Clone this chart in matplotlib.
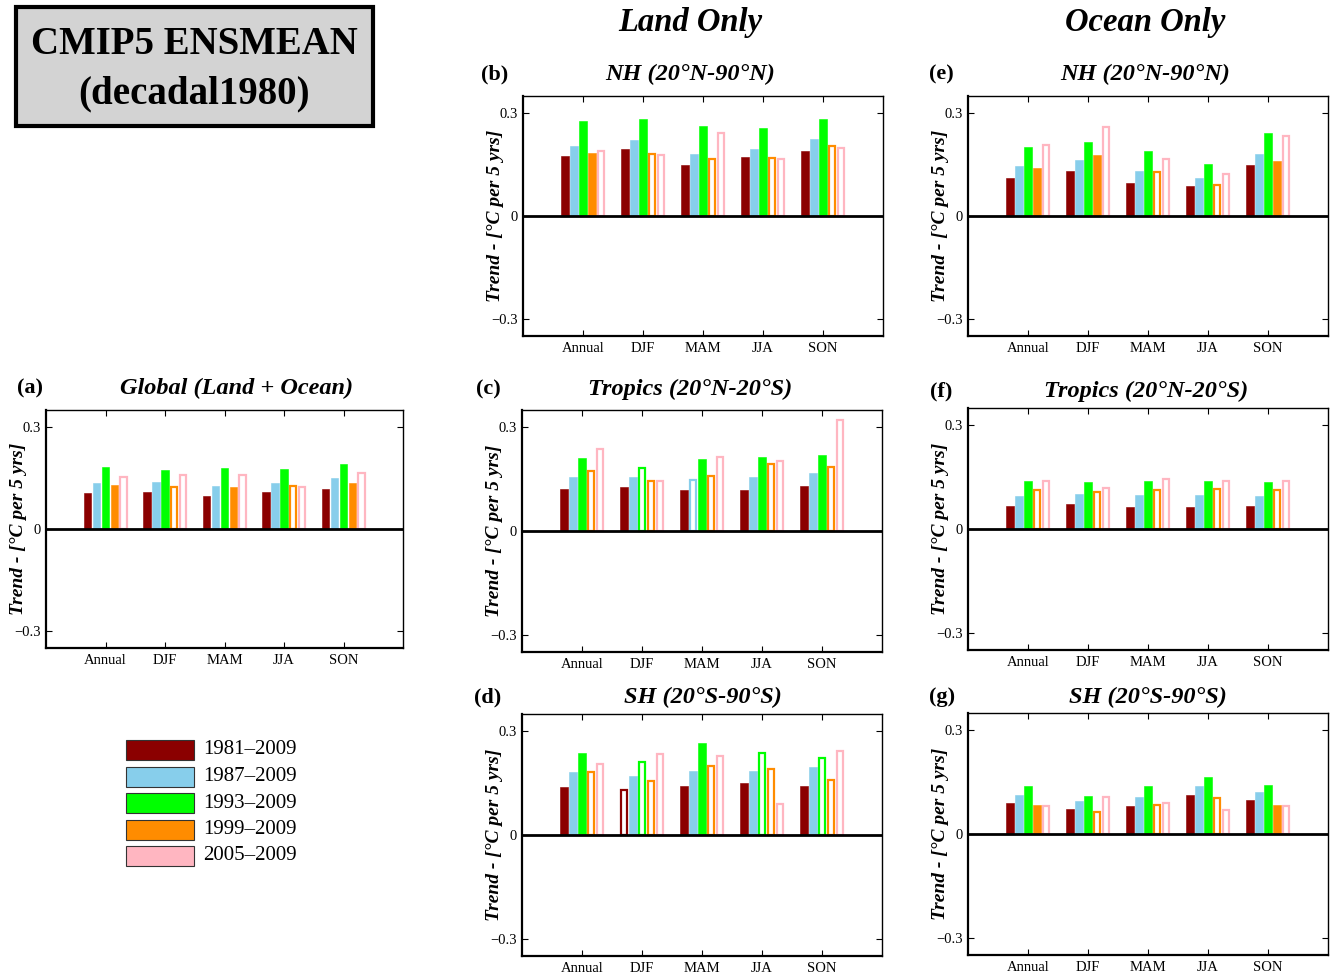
import matplotlib
matplotlib.use("Agg")
import matplotlib.pyplot as plt
from matplotlib.patches import Rectangle

plt.rcParams['font.family'] = ['Liberation Serif', 'DejaVu Serif']
plt.rcParams['mathtext.fontset'] = 'stix'

W, H = 1331, 975

seasons = ["Annual", "DJF", "MAM", "JJA", "SON"]
periods = ["1981\u20132009", "1987\u20132009", "1993\u20132009", "1999\u20132009", "2005\u20132009"]
colors = ["#8B0000", "#87CEEB", "#00FF00", "#FF8C00", "#FFB6C1"]

# values: rows = periods, columns = seasons (Annual, DJF, MAM, JJA, SON)
global_vals = [[0.106, 0.109, 0.097, 0.109, 0.118],
               [0.136, 0.137, 0.126, 0.135, 0.149],
               [0.182, 0.173, 0.178, 0.176, 0.191],
               [0.130, 0.124, 0.125, 0.126, 0.136],
               [0.153, 0.158, 0.158, 0.123, 0.166]]
global_hollow = [[0, 0, 0, 0, 0], [0, 0, 0, 0, 0], [0, 0, 0, 0, 0],
                 [0, 1, 0, 1, 0], [1, 1, 1, 1, 1]]

land_nh_vals = [[0.174, 0.195, 0.150, 0.172, 0.191],
                [0.205, 0.223, 0.180, 0.196, 0.225],
                [0.277, 0.283, 0.262, 0.256, 0.283],
                [0.183, 0.180, 0.166, 0.168, 0.204],
                [0.190, 0.179, 0.243, 0.165, 0.199]]
land_nh_hollow = [[0, 0, 0, 0, 0], [0, 0, 0, 0, 0], [0, 0, 0, 0, 0],
                  [0, 1, 1, 1, 1], [1, 1, 1, 1, 1]]

land_tr_vals = [[0.122, 0.127, 0.119, 0.119, 0.130],
                [0.156, 0.156, 0.148, 0.155, 0.169],
                [0.210, 0.181, 0.209, 0.215, 0.219],
                [0.173, 0.145, 0.159, 0.193, 0.184],
                [0.236, 0.145, 0.214, 0.202, 0.320]]
land_tr_hollow = [[0, 0, 0, 0, 0], [0, 0, 1, 0, 0], [0, 1, 0, 0, 0],
                  [1, 1, 1, 1, 1], [1, 1, 1, 1, 1]]

land_sh_vals = [[0.140, 0.131, 0.143, 0.150, 0.143],
                [0.181, 0.170, 0.184, 0.184, 0.198],
                [0.238, 0.212, 0.266, 0.236, 0.224],
                [0.181, 0.155, 0.200, 0.190, 0.159],
                [0.204, 0.235, 0.229, 0.089, 0.243]]
land_sh_hollow = [[0, 1, 0, 0, 0], [0, 0, 0, 0, 0], [0, 1, 0, 1, 1],
                  [1, 1, 1, 1, 1], [1, 1, 1, 1, 1]]

ocean_nh_vals = [[0.112, 0.131, 0.097, 0.087, 0.148],
                 [0.147, 0.163, 0.132, 0.112, 0.180],
                 [0.201, 0.217, 0.190, 0.151, 0.242],
                 [0.139, 0.177, 0.127, 0.089, 0.159],
                 [0.208, 0.261, 0.165, 0.123, 0.233]]
ocean_nh_hollow = [[0, 0, 0, 0, 0], [0, 0, 0, 0, 0], [0, 0, 0, 0, 0],
                   [0, 0, 1, 1, 0], [1, 1, 1, 1, 1]]

ocean_tr_vals = [[0.067, 0.073, 0.065, 0.064, 0.067],
                 [0.095, 0.101, 0.097, 0.097, 0.096],
                 [0.138, 0.136, 0.138, 0.138, 0.135],
                 [0.114, 0.107, 0.114, 0.117, 0.112],
                 [0.139, 0.120, 0.144, 0.138, 0.138]]
ocean_tr_hollow = [[0, 0, 0, 0, 0], [0, 0, 0, 0, 0], [0, 0, 0, 0, 0],
                   [1, 1, 1, 1, 1], [1, 1, 1, 1, 1]]

ocean_sh_vals = [[0.090, 0.073, 0.080, 0.114, 0.098],
                 [0.114, 0.095, 0.107, 0.139, 0.122],
                 [0.140, 0.109, 0.138, 0.165, 0.142],
                 [0.085, 0.065, 0.085, 0.104, 0.085],
                 [0.080, 0.107, 0.091, 0.069, 0.080]]
ocean_sh_hollow = [[0, 0, 0, 0, 0], [0, 0, 0, 0, 0], [0, 0, 0, 0, 0],
                   [0, 1, 1, 1, 0], [1, 1, 1, 1, 1]]

fig = plt.figure(figsize=(W / 100, H / 100), dpi=100)


def fx(x):
    return x / W


def fy(y):
    return 1 - y / H


def make_axes(left, right, top, bottom):
    return fig.add_axes([fx(left), fy(bottom), (right - left) / W, (bottom - top) / H])


def draw_panel(ax, vals, hollow):
    offsets = [-0.3, -0.15, 0.0, 0.15, 0.3]
    width = 0.125
    xs = list(range(1, len(seasons) + 1))
    for i, (row, hrow) in enumerate(zip(vals, hollow)):
        for j, (v, h) in enumerate(zip(row, hrow)):
            x = xs[j] + offsets[i]
            if h:
                ax.bar(x, v, width=width * 0.88, color='white', edgecolor=colors[i],
                       linewidth=1.6, zorder=3)
            else:
                ax.bar(x, v, width=width, color=colors[i], edgecolor=colors[i],
                       linewidth=0.4, zorder=3)
    ax.axhline(0, color='black', lw=2.0, zorder=4)
    ax.set_xlim(0, 6)
    ax.set_ylim(-0.35, 0.35)
    ax.set_xticks(xs)
    ax.set_xticklabels(seasons, fontsize=10.5)
    ax.set_yticks([-0.3, 0, 0.3])
    ax.set_yticklabels(["\u22120.3", "0", "0.3"], fontsize=10.5)
    ax.tick_params(direction='in', top=True, right=True, length=4, width=0.8, pad=4)
    for s in ax.spines.values():
        s.set_linewidth(1.0)
    ax.spines['left'].set_linewidth(1.6)
    ax.spines['bottom'].set_linewidth(1.6)
    ax.set_ylabel("Trend - [\u00b0C per 5 yrs]", fontsize=14, fontweight='bold',
                  fontstyle='italic')
    ax.yaxis.set_label_coords(-0.052, 0.5)


panels = [
    # letter, title, vals, hollow, (left, right, top, bottom), letter xy, title xy
    ("(a)", "Global (Land + Ocean)", global_vals, global_hollow, (46, 403, 410, 648), (30, 388), (237, 388)),
    ("(b)", "NH (20\u00b0N-90\u00b0N)", land_nh_vals, land_nh_hollow, (523, 883, 96, 336), (495, 74), (690, 74)),
    ("(c)", "Tropics (20\u00b0N-20\u00b0S)", land_tr_vals, land_tr_hollow, (522, 882, 410, 652), (488, 389), (690, 389)),
    ("(d)", "SH (20\u00b0S-90\u00b0S)", land_sh_vals, land_sh_hollow, (522, 882, 714, 956), (488, 697), (703, 697)),
    ("(e)", "NH (20\u00b0N-90\u00b0N)", ocean_nh_vals, ocean_nh_hollow, (968, 1328, 96, 336), (941, 74), (1145, 74)),
    ("(f)", "Tropics (20\u00b0N-20\u00b0S)", ocean_tr_vals, ocean_tr_hollow, (968, 1328, 408, 650), (941, 391), (1146, 391)),
    ("(g)", "SH (20\u00b0S-90\u00b0S)", ocean_sh_vals, ocean_sh_hollow, (968, 1328, 713, 955), (942, 697), (1148, 697)),
]

for letter, title, vals, hollow, box, lxy, txy in panels:
    ax = make_axes(*box)
    draw_panel(ax, vals, hollow)
    fig.text(fx(lxy[0]), fy(lxy[1]), letter, fontsize=16, fontweight='bold',
             ha='center', va='center')
    fig.text(fx(txy[0]), fy(txy[1]), title, fontsize=17.5, fontweight='bold',
             fontstyle='italic', ha='center', va='center')

fig.text(fx(690), fy(23), "Land Only", fontsize=23.5, fontweight='bold',
         fontstyle='italic', ha='center', va='center')
fig.text(fx(1145), fy(23), "Ocean Only", fontsize=23.5, fontweight='bold',
         fontstyle='italic', ha='center', va='center')

# Title box
fig.patches.append(Rectangle((fx(16), fy(126)), (373 - 16) / W, (126 - 7) / H,
                             transform=fig.transFigure, facecolor='#d3d3d3',
                             edgecolor='black', linewidth=3, zorder=1))
fig.text(fx(194), fy(44), "CMIP5 ENSMEAN", fontsize=28, fontweight='bold',
         ha='center', va='center', zorder=2)
fig.text(fx(194), fy(94), "(decadal1980)", fontsize=28, fontweight='bold',
         ha='center', va='center', zorder=2)

# Legend
for i, (lab, c) in enumerate(zip(periods, colors)):
    y = 750 + i * 26.5
    fig.patches.append(Rectangle((fx(126), fy(y + 10)), 68 / W, 20 / H,
                                 transform=fig.transFigure, facecolor=c,
                                 edgecolor='#333333', linewidth=0.8))
    fig.text(fx(203), fy(y), lab, fontsize=15, ha='left', va='center')

fig.savefig("out.png", dpi=100)
